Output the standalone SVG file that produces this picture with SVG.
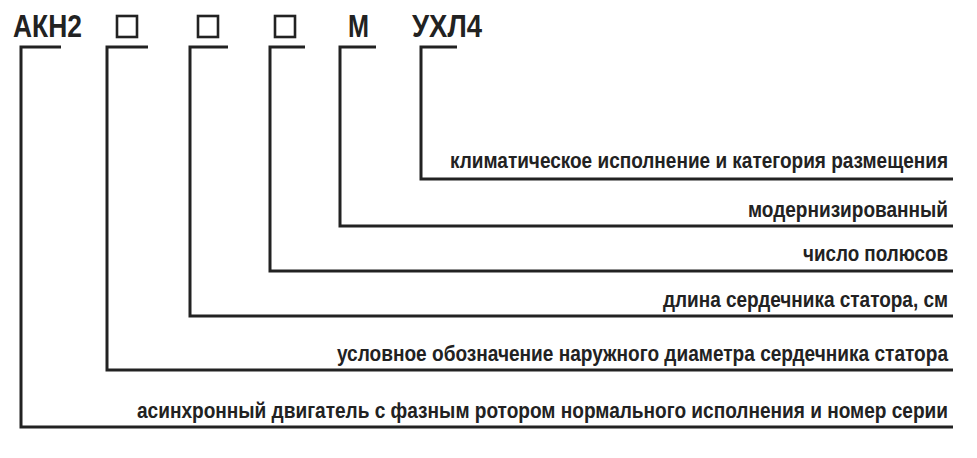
<svg xmlns="http://www.w3.org/2000/svg" width="977" height="458" viewBox="0 0 977 458">
<style>
.code{font-family:"Liberation Sans",Arial,sans-serif;font-weight:bold;font-size:31px;fill:#222}
.lbl{font-family:"Liberation Sans",Arial,sans-serif;font-weight:bold;font-size:22px;fill:#222;text-anchor:end}
.box{fill:none;stroke:#222;stroke-width:2.6}
.ln{fill:none;stroke:#222;stroke-width:3;stroke-linecap:butt;stroke-linejoin:miter}
</style>
<rect width="977" height="458" fill="#fff"/>
<g id="code">
<text class="code" transform="translate(13,37) scale(0.83,1)" textLength="83" lengthAdjust="spacingAndGlyphs">АКН2</text>
<rect class="box" x="117" y="16" width="20" height="21"/>
<rect class="box" x="198" y="16" width="20" height="21"/>
<rect class="box" x="275" y="16" width="20" height="21"/>
<text class="code" transform="translate(348,37) scale(0.83,1)" textLength="25.3" lengthAdjust="spacingAndGlyphs">М</text>
<text class="code" transform="translate(412,37) scale(0.83,1)" textLength="84.3" lengthAdjust="spacingAndGlyphs">УХЛ4</text>
</g>
<g id="connectors">
<polyline class="ln" points="61,47 21,47 21,427 953,427"/>
<polyline class="ln" points="148,47 107,47 107,370 953,370"/>
<polyline class="ln" points="228,47 190,47 190,316 953,316"/>
<polyline class="ln" points="305,47 270,47 270,271 953,271"/>
<polyline class="ln" points="376,47 340,47 340,226 953,226"/>
<polyline class="ln" points="457,47 421,47 421,179 953,179"/>
</g>
<g id="labels">
<text id="n6" class="lbl" transform="translate(948,167.5) scale(0.865,1)" textLength="575.7" lengthAdjust="spacingAndGlyphs">климатическое исполнение и категория размещения</text>
<text id="n5" class="lbl" transform="translate(948,216.5) scale(0.865,1)" textLength="231.2" lengthAdjust="spacingAndGlyphs">модернизированный</text>
<text id="n4" class="lbl" transform="translate(948,261) scale(0.865,1)" textLength="167.6" lengthAdjust="spacingAndGlyphs">число полюсов</text>
<text id="n3" class="lbl" transform="translate(948,307) scale(0.865,1)" textLength="329.5" lengthAdjust="spacingAndGlyphs">длина сердечника статора, см</text>
<text id="n2" class="lbl" transform="translate(948,361) scale(0.865,1)" textLength="706.4" lengthAdjust="spacingAndGlyphs">условное обозначение наружного диаметра сердечника статора</text>
<text id="n1" class="lbl" transform="translate(948,417.5) scale(0.865,1)" textLength="937.6" lengthAdjust="spacingAndGlyphs">асинхронный двигатель с фазным ротором нормального исполнения и номер серии</text>
</g>
</svg>
